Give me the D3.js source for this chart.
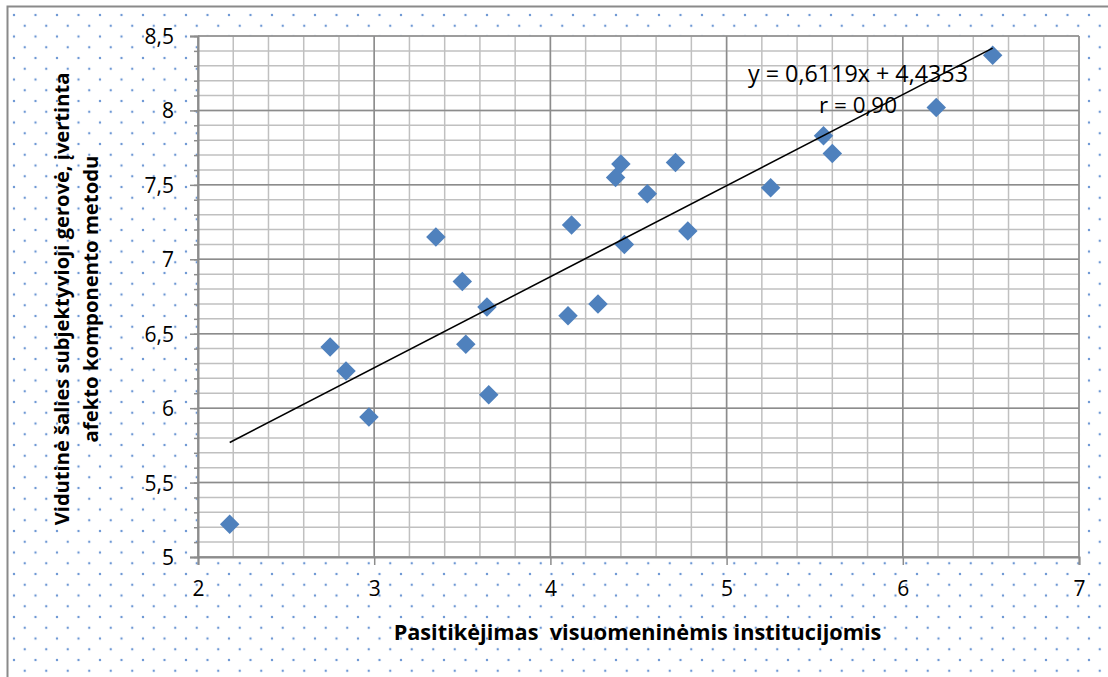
<!DOCTYPE html>
<html>
<head>
<meta charset="utf-8">
<script src="https://cdn.jsdelivr.net/npm/d3@7"></script>
<style>
  html, body { margin: 0; padding: 0; background: #ffffff; }
  svg { display: block; }
  text { font-family: "Open Sans", Lato, sans-serif; }
</style>
</head>
<body>
<svg id="chart" width="1108" height="677"></svg>
<script>
// ---- data ----
const trustValues = [2.18, 2.75, 2.84, 2.97, 3.35, 3.50, 3.52, 3.64, 3.65, 4.10, 4.12, 4.27,
                     4.37, 4.40, 4.42, 4.55, 4.71, 4.78, 5.25, 5.55, 5.60, 6.19, 6.51];
const wellbeingValues = [5.22, 6.41, 6.25, 5.94, 7.15, 6.85, 6.43, 6.68, 6.09, 6.62, 7.23, 6.70,
                         7.55, 7.64, 7.10, 7.44, 7.65, 7.19, 7.48, 7.83, 7.71, 8.02, 8.37];
const xTickValues = [2, 3, 4, 5, 6, 7];
const xTickLabels = ["2", "3", "4", "5", "6", "7"];
const yTickValues = [5, 5.5, 6, 6.5, 7, 7.5, 8, 8.5];
const yTickLabels = ["5", "5,5", "6", "6,5", "7", "7,5", "8", "8,5"];
const trendSlope = 0.6119;
const trendIntercept = 4.4353;
const equationText = "y = 0,6119x + 4,4353";
const rText = "r = 0,90";
const xTitle = "Pasitikėjimas  visuomeninėmis institucijomis";
const yTitleLines = ["Vidutinė šalies subjektyvioji gerovė, įvertinta", "afekto komponento metodu"];

// ---- layout ----
const W = 1108, H = 677;
const plot = { left: 198, right: 1079, top: 36, bottom: 557 };

const svg = d3.select("#chart");

// fit a text element's font size to a target width
function fitWidth(sel, target) {
  const node = sel.node();
  const fs = parseFloat(sel.attr("font-size"));
  const len = node.getComputedTextLength();
  if (len > 0) sel.attr("font-size", (fs * target / len).toFixed(2));
  return sel;
}

// background dotted pattern
const defs = svg.append("defs");
const pat = defs.append("pattern")
  .attr("id", "dots").attr("patternUnits", "userSpaceOnUse")
  .attr("x", 14).attr("y", 15).attr("width", 21.5).attr("height", 21.5);
[[0, 0], [21.5, 0], [0, 21.5], [21.5, 21.5], [10.75, 10.75]].forEach(p => {
  pat.append("circle").attr("cx", p[0]).attr("cy", p[1]).attr("r", 1.2).attr("fill", "#6d98d4");
});

svg.append("rect").attr("x", 0).attr("y", 0).attr("width", W).attr("height", H).attr("fill", "#ffffff");
svg.append("rect").attr("x", 8).attr("y", 7).attr("width", W).attr("height", H).attr("fill", "url(#dots)");
// outer border (only left and top visible)
svg.append("rect").attr("x", 7.5).attr("y", 6.5).attr("width", W + 20).attr("height", H + 20)
  .attr("fill", "none").attr("stroke", "#8a8a8a").attr("stroke-width", 2);

// scales
const x = d3.scaleLinear().domain([2, 7]).range([plot.left, plot.right]);
const y = d3.scaleLinear().domain([5, 8.5]).range([plot.bottom, plot.top]);

// plot area
svg.append("rect").attr("x", plot.left).attr("y", plot.top)
  .attr("width", plot.right - plot.left).attr("height", plot.bottom - plot.top).attr("fill", "#ffffff");

// minor gridlines
const xMinor = d3.range(2, 7.0001, 0.2);
const yMinor = d3.range(5, 8.5001, 0.1);
const grid = svg.append("g");
grid.selectAll(".vminor").data(xMinor).join("line")
  .attr("x1", d => x(d)).attr("x2", d => x(d)).attr("y1", plot.top).attr("y2", plot.bottom)
  .attr("stroke", "#c0c0c0").attr("stroke-width", 1.5);
grid.selectAll(".hminor").data(yMinor).join("line")
  .attr("y1", d => y(d)).attr("y2", d => y(d)).attr("x1", plot.left).attr("x2", plot.right)
  .attr("stroke", "#c0c0c0").attr("stroke-width", 1.5);
// major gridlines
grid.selectAll(".vmajor").data(xTickValues).join("line")
  .attr("x1", d => x(d)).attr("x2", d => x(d)).attr("y1", plot.top).attr("y2", plot.bottom)
  .attr("stroke", "#8c8c8c").attr("stroke-width", 1.5);
grid.selectAll(".hmajor").data(yTickValues).join("line")
  .attr("y1", d => y(d)).attr("y2", d => y(d)).attr("x1", plot.left).attr("x2", plot.right)
  .attr("stroke", "#8c8c8c").attr("stroke-width", 1.5);

// y axis
const yAxisMinor = d3.axisLeft(y).tickValues(yMinor).tickSize(4).tickFormat("");
svg.append("g").attr("transform", `translate(${plot.left},0)`).call(yAxisMinor)
  .call(g => g.select(".domain").remove())
  .call(g => g.selectAll("line").attr("stroke", "#8c8c8c").attr("stroke-width", 1.5));
const yAxis = d3.axisLeft(y).tickValues(yTickValues).tickSize(8).tickPadding(16)
  .tickFormat((d, i) => yTickLabels[i]);
svg.append("g").attr("transform", `translate(${plot.left},0)`).call(yAxis)
  .call(g => g.select(".domain").attr("stroke", "#8c8c8c").attr("stroke-width", 2))
  .call(g => g.selectAll("line").attr("stroke", "#8c8c8c").attr("stroke-width", 1.5))
  .call(g => g.selectAll("text").attr("font-family", "Lato, sans-serif").attr("font-size", 21)
    .attr("fill", "#000").attr("dy", "0.36em"));

// x axis
const xAxis = d3.axisBottom(x).tickValues(xTickValues).tickSize(8).tickPadding(16)
  .tickFormat((d, i) => xTickLabels[i]);
svg.append("g").attr("transform", `translate(0,${plot.bottom})`).call(xAxis)
  .call(g => g.select(".domain").attr("stroke", "#8c8c8c").attr("stroke-width", 2))
  .call(g => g.selectAll("line").attr("stroke", "#8c8c8c").attr("stroke-width", 1.5))
  .call(g => g.selectAll("text").attr("font-family", "Lato, sans-serif").attr("font-size", 21)
    .attr("fill", "#000"));

// points
const data = trustValues.map((v, i) => ({ x: v, y: wellbeingValues[i] }));
svg.append("g").selectAll("path").data(data).join("path")
  .attr("d", d3.symbol().type(d3.symbolSquare).size(190))
  .attr("transform", d => `translate(${x(d.x)},${y(d.y)}) rotate(45)`)
  .attr("fill", "#4f81bd");

// trend line
const xExt = d3.extent(trustValues);
svg.append("line")
  .attr("x1", x(xExt[0])).attr("y1", y(trendSlope * xExt[0] + trendIntercept))
  .attr("x2", x(xExt[1])).attr("y2", y(trendSlope * xExt[1] + trendIntercept))
  .attr("stroke", "#000").attr("stroke-width", 1.6);

// equation labels
fitWidth(svg.append("text").attr("x", 858).attr("y", 82).attr("text-anchor", "middle")
  .attr("font-size", 20).text(equationText), 220);
fitWidth(svg.append("text").attr("x", 858).attr("y", 113).attr("text-anchor", "middle")
  .attr("font-size", 20).text(rText), 78);

// axis titles
fitWidth(svg.append("text").attr("x", (plot.left + plot.right) / 2 - 1).attr("y", 640)
  .attr("text-anchor", "middle").attr("font-weight", "bold").attr("font-size", 20)
  .style("white-space", "pre").text(xTitle), 488);

const yCenter = 299;
const yTargets = [453, 287];
yTitleLines.forEach((line, i) => {
  fitWidth(svg.append("text")
    .attr("transform", `translate(${69 + i * 29},${yCenter}) rotate(-90)`)
    .attr("text-anchor", "middle").attr("font-weight", "bold").attr("font-size", 19)
    .text(line), yTargets[i]);
});
</script>
</body>
</html>
